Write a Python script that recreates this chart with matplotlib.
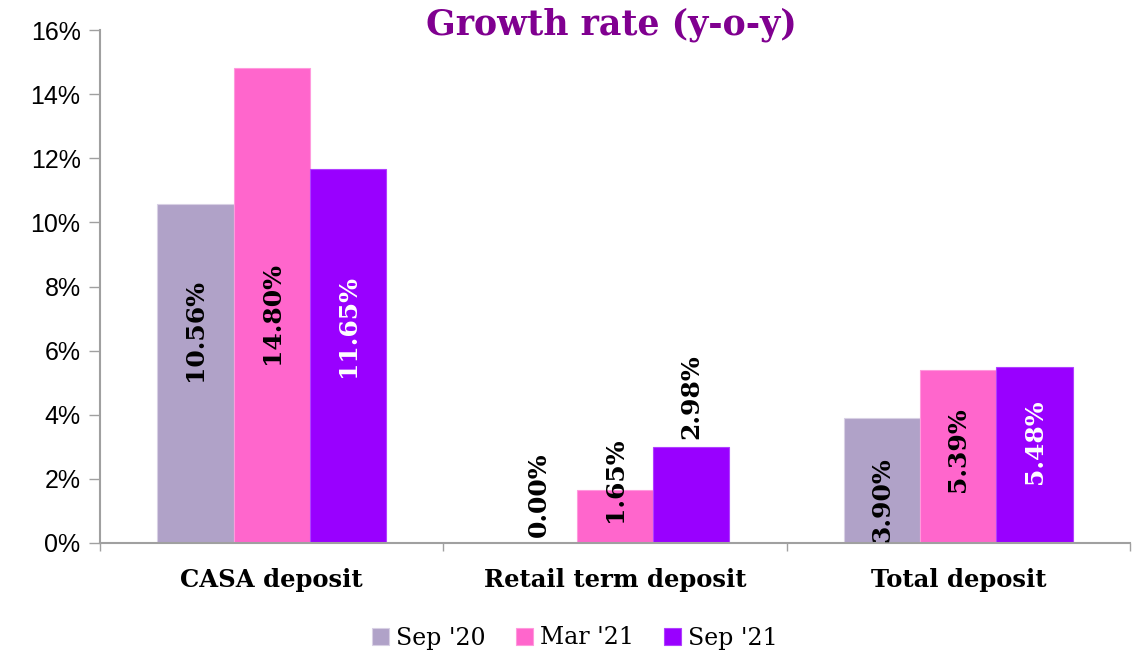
import matplotlib
matplotlib.use("Agg")
import matplotlib.pyplot as plt
import numpy as np
from matplotlib.ticker import FuncFormatter, FixedLocator

categories = ["CASA deposit", "Retail term deposit", "Total deposit"]
series_names = ["Sep '20", "Mar '21", "Sep '21"]
sep20 = [10.56, 0.00, 3.90]
mar21 = [14.80, 1.65, 5.39]
sep21 = [11.65, 2.98, 5.48]
title = "Growth rate (y-o-y)"

series = [sep20, mar21, sep21]
colors = ["#B0A2C8", "#FF66CC", "#9900FF"]
edge_colors = ["#D8D0E4", "#FF99DD", "#B040FF"]
# label layout: centre heights (in % units) and colours
label_centres = [
    [6.64, 1.50, 1.34],
    [7.17, 1.97, 2.90],
    [6.77, 4.58, 3.15],
]
label_colors = [
    ["black", "black", "black"],
    ["black", "black", "black"],
    ["white", "black", "white"],
]

serif = ["DejaVu Serif"]

fig = plt.figure(figsize=(11.37, 6.61), dpi=100)
ax = fig.add_axes([100 / 1137, 1 - 543 / 661, 1030 / 1137, 513 / 661])

x = np.arange(len(categories))
w = 0.222
for i, (vals, c, ec) in enumerate(zip(series, colors, edge_colors)):
    xs = x + (i - 1) * w
    ax.bar(xs, vals, width=w, color=c, edgecolor=ec, linewidth=0.8,
           label=series_names[i], zorder=2)
    for j, v in enumerate(vals):
        ax.text(xs[j], label_centres[i][j], f"{v:.2f}%", rotation=90,
                ha="center", va="center", fontsize=18, fontweight="bold",
                family=serif, color=label_colors[i][j], zorder=3)

ax.set_xlim(-0.5, len(categories) - 0.5)
ax.set_ylim(0, 16)
ax.set_yticks(np.arange(0, 17, 2))
ax.yaxis.set_major_formatter(FuncFormatter(lambda v, p: f"{v:.0f}%"))
ax.tick_params(axis="y", labelsize=18, length=8, color="#A0A0A0", width=1, pad=6)
for t in ax.get_yticklabels():
    t.set_family(["Liberation Sans", "DejaVu Sans"])

ax.set_xticks(x)
ax.set_xticklabels(categories, fontsize=17.5, fontweight="bold", family=serif)
ax.tick_params(axis="x", length=0, pad=18)
ax.xaxis.set_minor_locator(FixedLocator(np.arange(-0.5, len(categories), 1.0)))
ax.tick_params(axis="x", which="minor", length=6, color="#A0A0A0", width=1)

for s in ["top", "right"]:
    ax.spines[s].set_visible(False)
for s in ["left", "bottom"]:
    ax.spines[s].set_color("#A0A0A0")
    ax.spines[s].set_linewidth(1.5)

fig.text(611 / 1137, 1 - 25 / 661, title, ha="center", va="center",
         fontsize=25, fontweight="bold", family=serif, color="#800090")

leg = fig.legend(loc="center", bbox_to_anchor=(575 / 1137, 1 - 638 / 661), ncol=3,
                 frameon=False, prop={"family": serif, "size": 17},
                 handlelength=0.7, handleheight=0.7, handletextpad=0.3,
                 columnspacing=1.3)

fig.savefig("out.png", dpi=100)
